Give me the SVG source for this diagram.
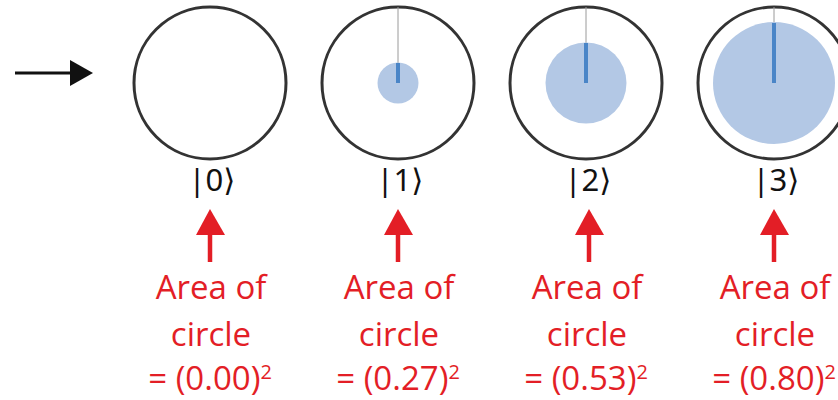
<svg xmlns="http://www.w3.org/2000/svg" width="838" height="400" viewBox="0 0 838 400">
<style>
.ring{fill:none;stroke:#333;stroke-width:3}
.disk{fill:#b3c8e5}
.needle{stroke:#4a85c7;stroke-width:4}
.hair{stroke:#9a9a9a;stroke-width:1}
.ket{font-family:"Noto Sans","DejaVu Sans",sans-serif;font-size:31px;fill:#111;text-anchor:middle}
.lbl{font-family:"Open Sans","Noto Sans",sans-serif;font-size:33px;fill:#e31e26;text-anchor:middle}
.sup{font-size:20px}
.red{stroke:#e31e26;stroke-width:4.5}
</style>
<rect width="838" height="400" fill="#fff"/>
<g id="state0">
<circle class="ring" cx="210" cy="83" r="76"/>
<text class="ket" x="212" y="191">|0⟩</text>
</g>
<g id="state1">
<circle class="ring" cx="398" cy="83" r="76"/>
<line class="hair" x1="398" y1="7" x2="398" y2="63"/>
<circle class="disk" cx="398" cy="83" r="20.5"/>
<line class="needle" x1="398" y1="63" x2="398" y2="83"/>
<text class="ket" x="400" y="191">|1⟩</text>
</g>
<g id="state2">
<circle class="ring" cx="586" cy="83" r="76"/>
<line class="hair" x1="586" y1="7" x2="586" y2="43"/>
<circle class="disk" cx="586" cy="83" r="40.5"/>
<line class="needle" x1="586" y1="43" x2="586" y2="83"/>
<text class="ket" x="588" y="191">|2⟩</text>
</g>
<g id="state3">
<circle class="ring" cx="774" cy="83" r="76"/>
<line class="hair" x1="774" y1="7" x2="774" y2="23"/>
<circle class="disk" cx="774" cy="83" r="61"/>
<line class="needle" x1="774" y1="23" x2="774" y2="83"/>
<text class="ket" x="776" y="191">|3⟩</text>
</g>
<g id="label0">
<text class="lbl" x="211" y="299">Area of</text>
<text class="lbl" x="211" y="346">circle</text>
<text class="lbl" x="210" y="390">= (0.00)<tspan class="sup" dy="-11">2</tspan></text>
</g>
<g id="label1">
<text class="lbl" x="399" y="299">Area of</text>
<text class="lbl" x="399" y="346">circle</text>
<text class="lbl" x="398" y="390">= (0.27)<tspan class="sup" dy="-11">2</tspan></text>
</g>
<g id="label2">
<text class="lbl" x="587" y="299">Area of</text>
<text class="lbl" x="587" y="346">circle</text>
<text class="lbl" x="586" y="390">= (0.53)<tspan class="sup" dy="-11">2</tspan></text>
</g>
<g id="label3">
<text class="lbl" x="775" y="299">Area of</text>
<text class="lbl" x="775" y="346">circle</text>
<text class="lbl" x="774" y="390">= (0.80)<tspan class="sup" dy="-11">2</tspan></text>
</g>
<g id="connectors">
<line x1="15" y1="73" x2="72" y2="73" stroke="#111" stroke-width="3"/>
<polygon points="70,60 93,73 70,86" fill="#111"/>
<line class="red" x1="210" y1="232" x2="210" y2="262"/>
<polygon points="196,235 210,209 225,235" fill="#e31e26"/>
<line class="red" x1="398" y1="232" x2="398" y2="262"/>
<polygon points="384,235 398,209 413,235" fill="#e31e26"/>
<line class="red" x1="589" y1="232" x2="589" y2="262"/>
<polygon points="575,235 589,209 604,235" fill="#e31e26"/>
<line class="red" x1="774" y1="232" x2="774" y2="262"/>
<polygon points="760,235 774,209 789,235" fill="#e31e26"/>
</g>
</svg>
